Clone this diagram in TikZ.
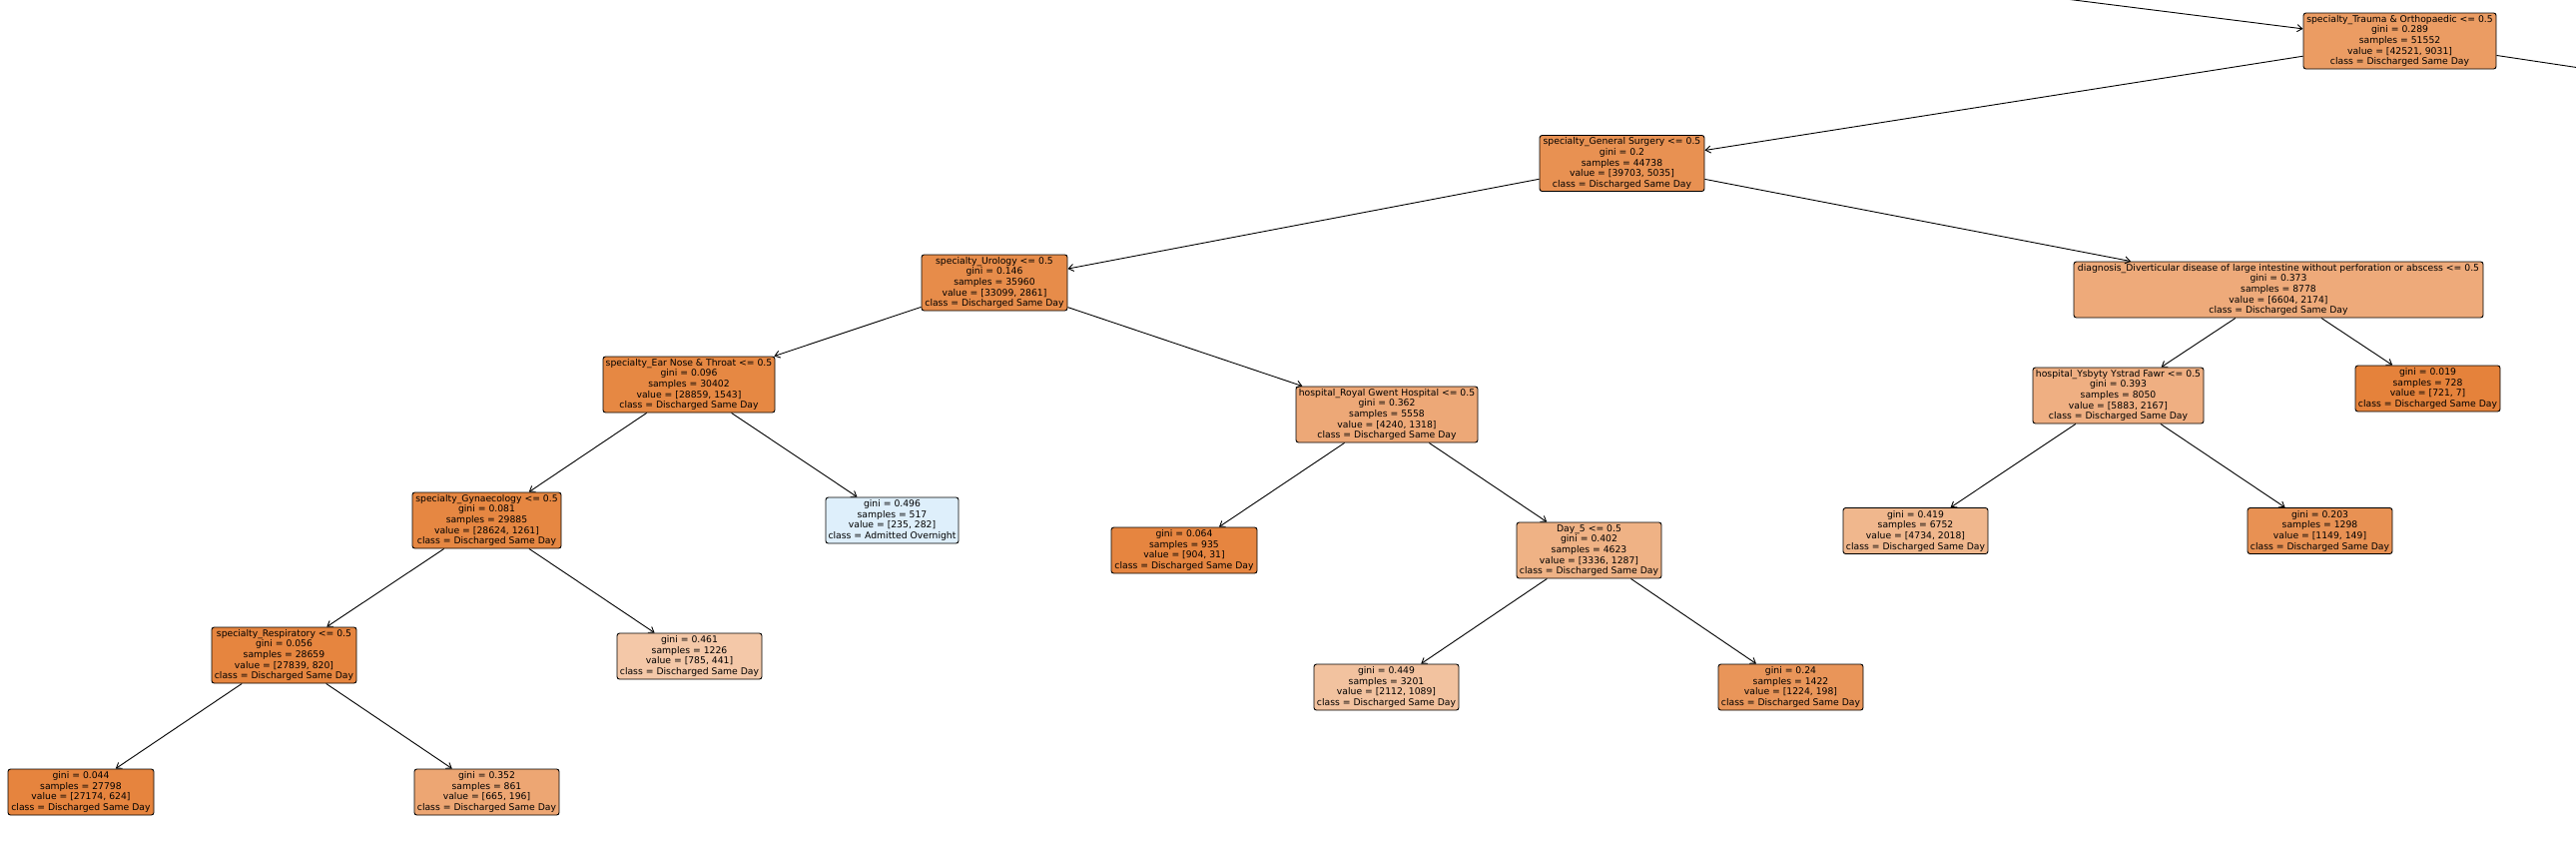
\documentclass[tikz,border=0pt]{standalone}
\usepackage{fontspec}
\usetikzlibrary{arrows.meta}
\newfontfamily\treefont{DejaVu Sans}
\definecolor{czero}{RGB}{229,129,57}
\definecolor{cone}{RGB}{57,157,229}
\tikzset{
  tn/.style={draw=black, line width=0.9pt, rounded corners=2.5pt, align=center,
    inner sep=0pt, font=\treefont\fontsize{9.25}{10.7}\selectfont, text=black},
  five/.style={minimum height=56pt},
  four/.style={minimum height=46pt},
  edge/.style={line width=0.9pt, draw=black, -{Straight Barb[length=5pt,width=7pt]}},
}
\begin{document}
\begin{tikzpicture}[x=1pt,y=1pt]
\useasboundingbox (0,0) rectangle (2580,-844);
\clip (0,0) rectangle (2580,-844);
% internal nodes
\node[tn,five,minimum width=193pt,fill=czero!78.8!white] (root) at (2403.5,-41)
  {specialty\_Trauma \& Orthopaedic <= 0.5\\gini = 0.289\\samples = 51552\\value = [42521, 9031]\\class = Discharged Same Day};
\node[tn,five,minimum width=165pt,fill=czero!87.3!white] (gs) at (1624.5,-163.5)
  {specialty\_General Surgery <= 0.5\\gini = 0.2\\samples = 44738\\value = [39703, 5035]\\class = Discharged Same Day};
\node[tn,five,minimum width=146pt,fill=czero!91.4!white] (uro) at (996,-283)
  {specialty\_Urology <= 0.5\\gini = 0.146\\samples = 35960\\value = [33099, 2861]\\class = Discharged Same Day};
\node[tn,five,minimum width=172pt,fill=czero!94.7!white] (ent) at (690,-385)
  {specialty\_Ear Nose \& Throat <= 0.5\\gini = 0.096\\samples = 30402\\value = [28859, 1543]\\class = Discharged Same Day};
\node[tn,five,minimum width=149pt,fill=czero!95.6!white] (gyn) at (487.5,-521)
  {specialty\_Gynaecology <= 0.5\\gini = 0.081\\samples = 29885\\value = [28624, 1261]\\class = Discharged Same Day};
\node[tn,five,minimum width=145pt,fill=czero!97.1!white] (resp) at (284.5,-656)
  {specialty\_Respiratory <= 0.5\\gini = 0.056\\samples = 28659\\value = [27839, 820]\\class = Discharged Same Day};
\node[tn,five,minimum width=182pt,fill=czero!68.9!white] (rg) at (1389,-415)
  {hospital\_Royal Gwent Hospital <= 0.5\\gini = 0.362\\samples = 5558\\value = [4240, 1318]\\class = Discharged Same Day};
\node[tn,five,minimum width=145pt,fill=czero!61.4!white] (day5) at (1591.5,-551)
  {Day\_5 <= 0.5\\gini = 0.402\\samples = 4623\\value = [3336, 1287]\\class = Discharged Same Day};
\node[tn,five,minimum width=410pt,fill=czero!67.1!white] (diag) at (2282,-290)
  {diagnosis\_Diverticular disease of large intestine without perforation or abscess <= 0.5\\gini = 0.373\\samples = 8778\\value = [6604, 2174]\\class = Discharged Same Day};
\node[tn,five,minimum width=171pt,fill=czero!63.2!white] (ysb) at (2121.5,-396)
  {hospital\_Ysbyty Ystrad Fawr <= 0.5\\gini = 0.393\\samples = 8050\\value = [5883, 2167]\\class = Discharged Same Day};
% leaves
\node[tn,four,minimum width=146pt,fill=czero!97.7!white] (l044) at (81,-793)
  {gini = 0.044\\samples = 27798\\value = [27174, 624]\\class = Discharged Same Day};
\node[tn,four,minimum width=145pt,fill=czero!70.5!white] (l352) at (487.5,-793)
  {gini = 0.352\\samples = 861\\value = [665, 196]\\class = Discharged Same Day};
\node[tn,four,minimum width=145pt,fill=czero!43.8!white] (l461) at (690.5,-657)
  {gini = 0.461\\samples = 1226\\value = [785, 441]\\class = Discharged Same Day};
\node[tn,four,minimum width=133pt,fill=cone!16.7!white] (l496) at (893.5,-521)
  {gini = 0.496\\samples = 517\\value = [235, 282]\\class = Admitted Overnight};
\node[tn,four,minimum width=146pt,fill=czero!96.6!white] (l064) at (1186,-551)
  {gini = 0.064\\samples = 935\\value = [904, 31]\\class = Discharged Same Day};
\node[tn,four,minimum width=145pt,fill=czero!48.4!white] (l449) at (1388.5,-688)
  {gini = 0.449\\samples = 3201\\value = [2112, 1089]\\class = Discharged Same Day};
\node[tn,four,minimum width=145pt,fill=czero!83.8!white] (l24) at (1793.5,-688)
  {gini = 0.24\\samples = 1422\\value = [1224, 198]\\class = Discharged Same Day};
\node[tn,four,minimum width=145pt,fill=czero!99.0!white] (l019) at (2431.5,-389)
  {gini = 0.019\\samples = 728\\value = [721, 7]\\class = Discharged Same Day};
\node[tn,four,minimum width=145pt,fill=czero!57.4!white] (l419) at (1918.5,-531.5)
  {gini = 0.419\\samples = 6752\\value = [4734, 2018]\\class = Discharged Same Day};
\node[tn,four,minimum width=145pt,fill=czero!87.0!white] (l203) at (2323.5,-531.5)
  {gini = 0.203\\samples = 1298\\value = [1149, 149]\\class = Discharged Same Day};
% off-canvas ends
\coordinate (up) at (1751,-41+82);
\coordinate (rightout) at (2803.5,-101);
% edges
\draw[edge] (up) -- (root);
\draw[line width=0.9pt] (root) -- (rightout);
\draw[edge] (root) -- (gs);
\draw[edge] (gs) -- (uro);
\draw[edge] (gs) -- (diag);
\draw[edge] (uro) -- (ent);
\draw[edge] (uro) -- (rg);
\draw[edge] (ent) -- (gyn);
\draw[edge] (ent) -- (l496);
\draw[edge] (gyn) -- (resp);
\draw[edge] (gyn) -- (l461);
\draw[edge] (resp) -- (l044);
\draw[edge] (resp) -- (l352);
\draw[edge] (rg) -- (l064);
\draw[edge] (rg) -- (day5);
\draw[edge] (day5) -- (l449);
\draw[edge] (day5) -- (l24);
\draw[edge] (diag) -- (ysb);
\draw[edge] (diag) -- (l019);
\draw[edge] (ysb) -- (l419);
\draw[edge] (ysb) -- (l203);
\end{tikzpicture}
\end{document}
